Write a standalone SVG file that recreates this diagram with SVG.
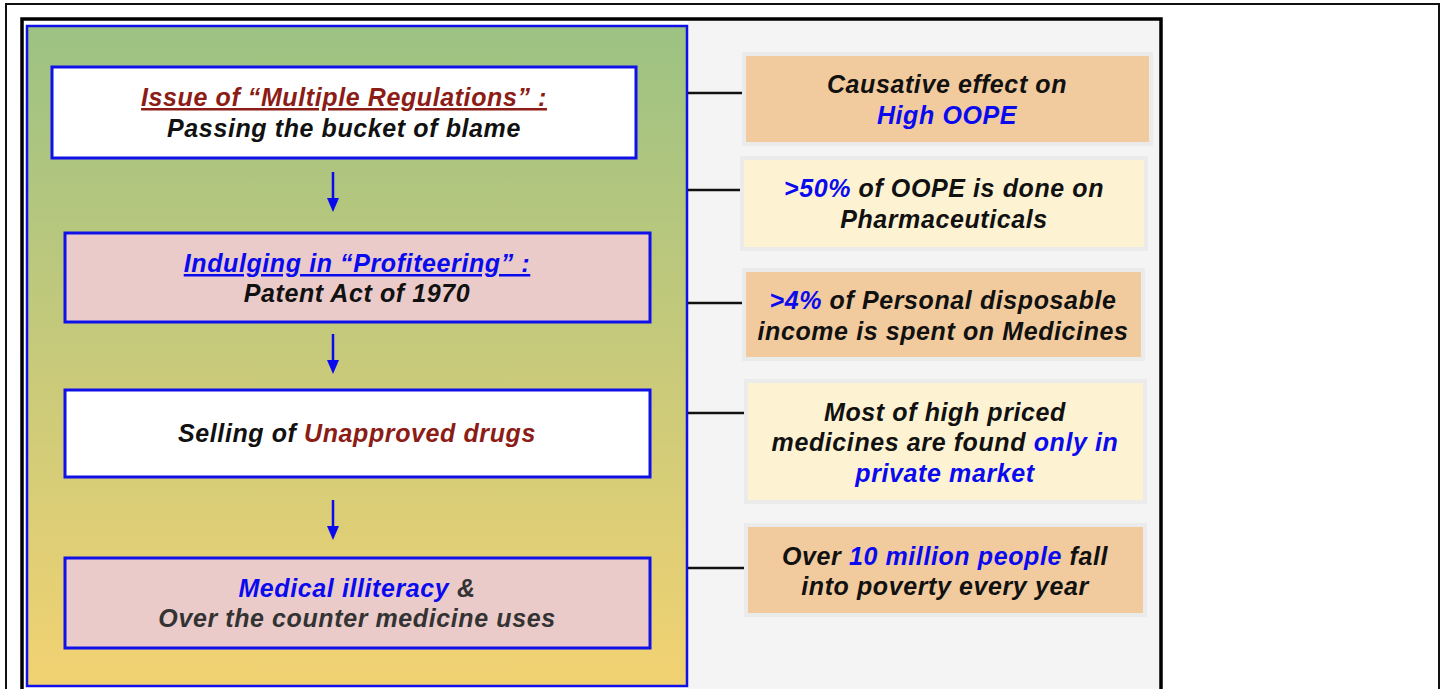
<svg xmlns="http://www.w3.org/2000/svg" width="1445" height="689" viewBox="0 0 1445 689">
<style>
text{font-family:"Liberation Sans",Arial,sans-serif;font-weight:700;font-style:italic;font-size:25px;letter-spacing:0.6px;text-anchor:middle;fill:#111}
.blue{fill:#0a0aee}
.red{fill:#8b1c16}
.gray{fill:#333}
.u{text-decoration:underline}
.node{stroke:#1010e8;stroke-width:3}
.white{fill:#fff}
.pink{fill:#ebcbca}
.tan{fill:#f1cb9e}
.cream{fill:#fdf3d3}
.halo{fill:#ebebeb}
.conn line.link{stroke:#111;stroke-width:2.5}
.conn line.arrow{stroke:#0a0aee;stroke-width:2.5}
.head{fill:#0a0aee}
</style>
<defs>
<linearGradient id="g" x1="0" y1="0" x2="0" y2="1">
<stop offset="0" stop-color="#9cc283"/>
<stop offset="1" stop-color="#f2d272"/>
</linearGradient>
</defs>
<rect x="0" y="0" width="1445" height="689" fill="#fff"/>
<rect x="6" y="4" width="1433" height="700" fill="none" stroke="#111" stroke-width="2"/>
<rect x="688" y="20" width="472" height="680" fill="#f4f4f4"/>
<rect x="22" y="19" width="1139" height="690" fill="none" stroke="#000" stroke-width="3.5"/>
<rect id="panel" x="27" y="26" width="660" height="660" fill="url(#g)" stroke="#1010e8" stroke-width="2.5"/>

<g class="conn">
<line class="link" x1="688" y1="93" x2="746" y2="93"/>
<line class="link" x1="688" y1="190" x2="746" y2="190"/>
<line class="link" x1="688" y1="303" x2="746" y2="303"/>
<line class="link" x1="688" y1="413" x2="748" y2="413"/>
<line class="link" x1="688" y1="568" x2="748" y2="568"/>
<line class="arrow" x1="333" y1="172" x2="333" y2="200"/>
<path class="head" d="M327,198 L339,198 L333,212 Z"/>
<line class="arrow" x1="333" y1="334" x2="333" y2="362"/>
<path class="head" d="M327,360 L339,360 L333,374 Z"/>
<line class="arrow" x1="333" y1="500" x2="333" y2="528"/>
<path class="head" d="M327,526 L339,526 L333,540 Z"/>
</g>

<g id="n1">
<rect class="node white" x="52" y="67" width="584" height="91"/>
<text x="344" y="106"><tspan class="red u">Issue of “Multiple Regulations” :</tspan></text>
<text x="344" y="137">Passing the bucket of blame</text>
</g>
<g id="n2">
<rect class="node pink" x="65" y="233" width="585" height="89"/>
<text x="357" y="272"><tspan class="blue u">Indulging in “Profiteering” :</tspan></text>
<text x="357" y="302">Patent Act of 1970</text>
</g>
<g id="n3">
<rect class="node white" x="65" y="390" width="585" height="87"/>
<text x="357" y="442">Selling of <tspan class="red">Unapproved drugs</tspan></text>
</g>
<g id="n4">
<rect class="node pink" x="65" y="558" width="585" height="90"/>
<text x="357" y="597"><tspan class="blue">Medical illiteracy</tspan><tspan class="gray"> &amp;</tspan></text>
<text x="357" y="627" class="gray">Over the counter medicine uses</text>
</g>

<g id="r1">
<rect class="halo" x="742" y="52" width="411" height="94"/>
<rect class="tan" x="746" y="56" width="403" height="86"/>
<text x="947" y="93">Causative effect on</text>
<text x="947" y="124" class="blue">High OOPE</text>
</g>
<g id="r2">
<rect class="halo" x="740" y="156" width="408" height="95"/>
<rect class="cream" x="744" y="160" width="400" height="87"/>
<text x="944" y="197"><tspan class="blue">&gt;50%</tspan> of OOPE is done on</text>
<text x="944" y="228">Pharmaceuticals</text>
</g>
<g id="r3">
<rect class="halo" x="742" y="268" width="403" height="93"/>
<rect class="tan" x="746" y="272" width="395" height="85"/>
<text x="943" y="309"><tspan class="blue">&gt;4%</tspan> of Personal disposable</text>
<text x="943" y="340">income is spent on Medicines</text>
</g>
<g id="r4">
<rect class="halo" x="744" y="379" width="403" height="125"/>
<rect class="cream" x="748" y="383" width="395" height="117"/>
<text x="945" y="421">Most of high priced</text>
<text x="945" y="451">medicines are found <tspan class="blue">only in</tspan></text>
<text x="945" y="482" class="blue">private market</text>
</g>
<g id="r5">
<rect class="halo" x="744" y="523" width="403" height="94"/>
<rect class="tan" x="748" y="527" width="395" height="86"/>
<text x="945" y="565">Over <tspan class="blue">10 million people</tspan> fall</text>
<text x="945" y="595">into poverty every year</text>
</g>
</svg>
